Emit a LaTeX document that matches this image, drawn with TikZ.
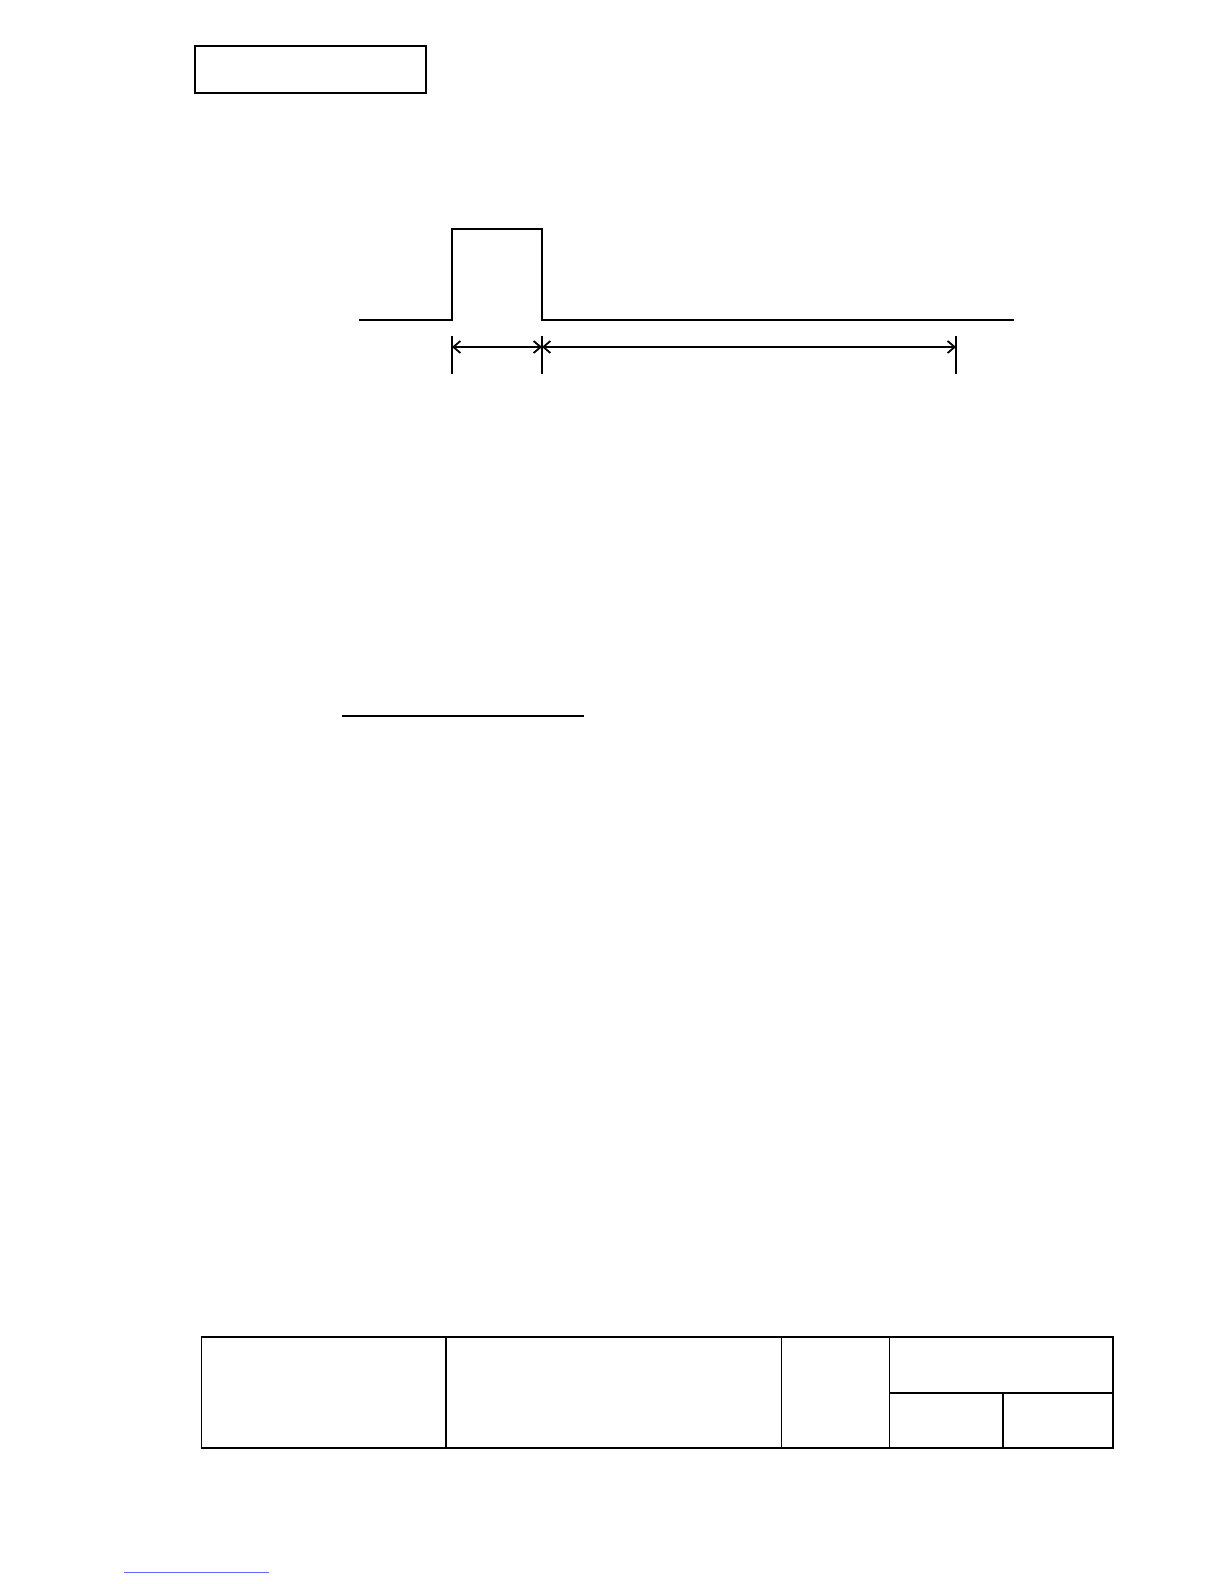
\documentclass[tikz,border=0pt]{standalone}
\usetikzlibrary{arrows.meta}
\begin{document}
\begin{tikzpicture}[x=1pt,y=-1pt,
  thinline/.style={line width=1.5pt},
  thickline/.style={line width=2.9pt},
  dimarrow/.style={line width=1.7pt,{Straight Barb[length=7pt,width=12pt,line width=1.8pt]}-{Straight Barb[length=7pt,width=12pt,line width=1.8pt]}},
  tableline/.style={line width=1.8pt}]
\useasboundingbox (0,0) rectangle (1224,1584);
% top box
\draw[thickline] (195,46) rectangle (426,93);
% waveform
\coordinate (w0) at (359,320);
\coordinate (rise) at (452,320);
\coordinate (fall) at (542,320);
\draw[thinline] (w0) -- (rise) -- (452,229);
\draw[line width=2.4pt] (451.2,229) -- (542.7,229);
\draw[thinline] (542,229) -- (fall) -- (1014,320);
% dimension ticks
\coordinate (t1a) at (452,336); \coordinate (t1b) at (452,374);
\coordinate (t2a) at (542,336); \coordinate (t2b) at (542,374);
\coordinate (t3a) at (956,336); \coordinate (t3b) at (956,374);
\draw[thinline] (t1a) -- (t1b);
\draw[thinline] (t2a) -- (t2b);
\draw[thinline] (t3a) -- (t3b);
\coordinate (d1) at (452,347); \coordinate (d2) at (542,347); \coordinate (d3) at (956,347);
\draw[dimarrow] (d1) -- (d2);
\draw[dimarrow] (d2) -- (d3);
% underline
\draw[line width=2.6pt] (342,716) -- (584,716);
% table
\draw[thickline] (200.5,1337) -- (1114,1337);
\draw[thickline] (200.5,1448) -- (1114,1448);
\draw[tableline] (201.5,1337) -- (201.5,1448);
\draw[tableline] (446,1337) -- (446,1448);
\draw[tableline] (781.5,1337) -- (781.5,1448);
\draw[tableline] (889.5,1337) -- (889.5,1448);
\draw[line width=2.4pt] (1113,1337) -- (1113,1448);
\draw[line width=2.2pt] (889.5,1393) -- (1114,1393);
\draw[tableline] (1003,1393) -- (1003,1448);
% faint link underline
\draw[line width=1pt,color=blue!60] (124,1572) -- (269,1572);
\end{tikzpicture}
\end{document}
